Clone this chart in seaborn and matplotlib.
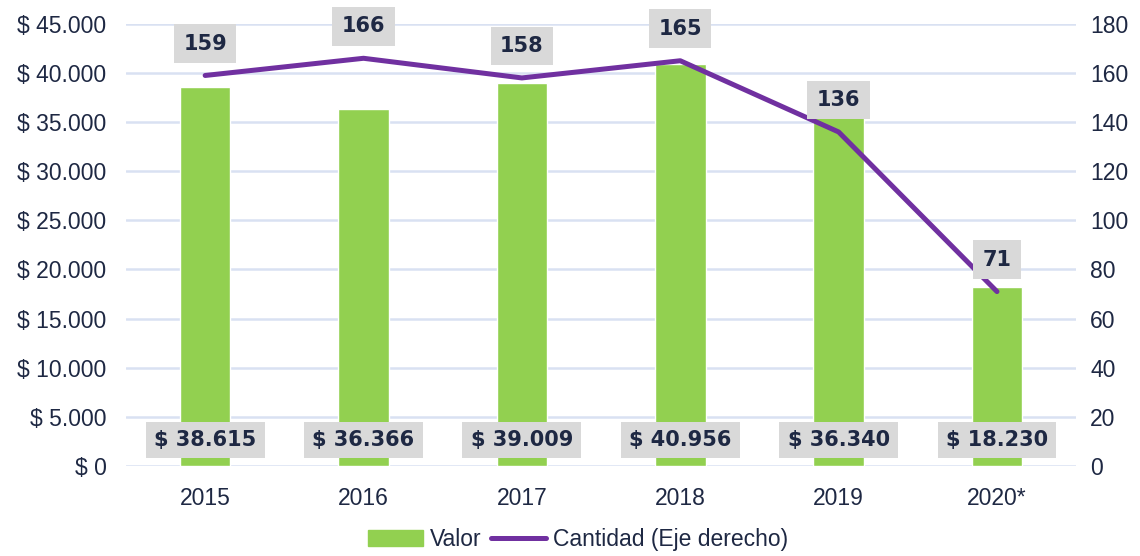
import numpy as np
import pandas as pd
import seaborn as sns
import matplotlib.pyplot as plt
from matplotlib.patches import Patch
from matplotlib.lines import Line2D
from matplotlib.ticker import FuncFormatter, MultipleLocator

anios = ["2015", "2016", "2017", "2018", "2019", "2020*"]
valor = [38615, 36366, 39009, 40956, 36340, 18230]
cantidad = [159, 166, 158, 165, 136, 71]

sns.set_theme(style="white")
plt.rcParams["font.family"] = ["Liberation Sans", "DejaVu Sans"]

verde = "#92D050"
morado = "#7030A0"
texto = "#1E2843"
caja = "#D9D9D9"

df = pd.DataFrame({"anio": anios, "valor": valor, "cantidad": cantidad})

fig = plt.figure(figsize=(11.4, 5.56), dpi=100)
ax = fig.add_axes([0.1105, 0.162, 0.8335, 0.795])

sns.barplot(data=df, x="anio", y="valor", color=verde, width=0.32,
            saturation=1, ax=ax, zorder=2)
ax.set_ylim(0, 45000)
ax.yaxis.set_major_locator(MultipleLocator(5000))
ax.yaxis.set_major_formatter(FuncFormatter(lambda v, p: "$ " + f"{int(v):,}".replace(",", ".")))
ax.grid(axis="y", color="#D9E1F2", linewidth=1.8, zorder=0)
ax.set_axisbelow(True)
ax.set_xlabel("")
ax.set_ylabel("")
ax.set_xlim(-0.5, 5.5)
for s in ax.spines.values():
    s.set_visible(False)
ax.tick_params(axis="both", length=0, labelsize=16.5, labelcolor=texto)
ax.tick_params(axis="x", pad=15)
ax.tick_params(axis="y", pad=14)

# etiquetas de valor abajo
for i, v in enumerate(valor):
    ax.text(i, 2650, "$ " + f"{v:,}".replace(",", "."), ha="center", va="center",
            fontsize=15, fontweight="bold", color=texto, zorder=5,
            family="DejaVu Sans",
            bbox=dict(boxstyle="square,pad=0.4", fc=caja, ec="none"))

ax2 = ax.twinx()
sns.lineplot(x=np.arange(len(anios)), y=cantidad, color=morado, linewidth=3.6,
             ax=ax2, zorder=4)
ax2.set_ylim(0, 180)
ax2.yaxis.set_major_locator(MultipleLocator(20))
ax2.set_xlim(-0.5, 5.5)
for s in ax2.spines.values():
    s.set_visible(False)
ax2.tick_params(axis="y", length=0, labelsize=16.5, labelcolor=texto, pad=10)
ax2.grid(False)

for i, c in enumerate(cantidad):
    ax2.annotate(str(c), (i, c), xytext=(0, 23), textcoords="offset points",
                 ha="center", va="center", fontsize=15, fontweight="bold",
                 color=texto, zorder=6, family="DejaVu Sans",
                 bbox=dict(boxstyle="square,pad=0.45", fc=caja, ec="none"))

handles = [Patch(color=verde), Line2D([0], [0], color=morado, linewidth=3.6)]
fig.legend(handles, ["Valor", "Cantidad (Eje derecho)"], loc="center",
           bbox_to_anchor=(0.507, 0.03), ncol=2, frameon=False, fontsize=16.5,
           handlelength=2.4, handletextpad=0.3, columnspacing=0.4,
           labelcolor=texto)

fig.savefig("out.png", dpi=100)
